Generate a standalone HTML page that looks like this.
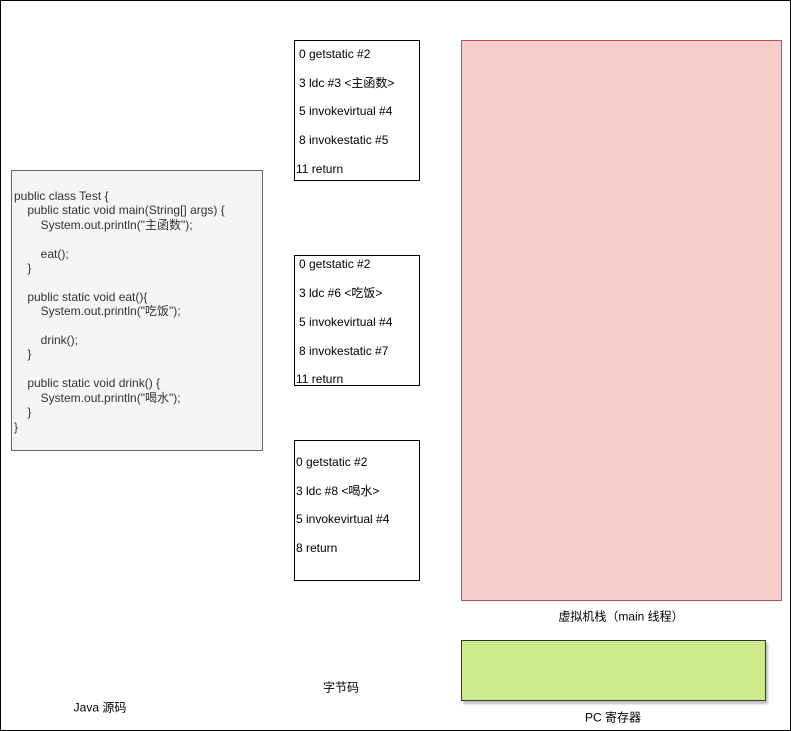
<!DOCTYPE html>
<html><head><meta charset="utf-8"><style>
body{margin:0}
#root{position:relative;width:791px;height:731px;background:#fff;overflow:hidden;font-family:"Liberation Sans","Noto Sans CJK SC",sans-serif;font-size:12px;color:#000}
.frame{left:0;top:0;width:789px;height:729px;border:1px solid #000;pointer-events:none}
.abs{position:absolute}
.code{left:11px;top:170px;width:250px;height:279px;background:#f5f5f5;border:1px solid #666;color:#333}
.code pre{margin:0;position:absolute;left:2px;top:18px;font-family:inherit;font-size:12px;line-height:14.4px}
.bc{border:1px solid #000;background:#fff;width:124px}
.bc div{position:absolute;white-space:nowrap;line-height:14px}
.lbl{white-space:nowrap;transform:translate(-50%,-50%)}
</style></head><body>
<div id="root">
<div class="abs code"><pre>public class Test {
    public static void main(String[] args) {
        System.out.println("主函数");

        eat();
    }

    public static void eat(){
        System.out.println("吃饭");

        drink();
    }

    public static void drink() {
        System.out.println("喝水");
    }
}</pre></div>
<div class="abs bc" style="left:294px;top:40px;height:139px">
<div style="left:4px;top:6px">0 getstatic #2</div>
<div style="left:4px;top:35px">3 ldc #3 &lt;主函数&gt;</div>
<div style="left:4px;top:63px">5 invokevirtual #4</div>
<div style="left:4px;top:92px">8 invokestatic #5</div>
<div style="left:1px;top:121px">11 return</div>
</div>
<div class="abs bc" style="left:294px;top:255px;height:129px">
<div style="left:4px;top:1px">0 getstatic #2</div>
<div style="left:4px;top:30px">3 ldc #6 &lt;吃饭&gt;</div>
<div style="left:4px;top:59px">5 invokevirtual #4</div>
<div style="left:4px;top:88px">8 invokestatic #7</div>
<div style="left:1px;top:116px">11 return</div>
</div>
<div class="abs bc" style="left:294px;top:440px;height:139px">
<div style="left:1px;top:14px">0 getstatic #2</div>
<div style="left:1px;top:43px">3 ldc #8 &lt;喝水&gt;</div>
<div style="left:1px;top:71px">5 invokevirtual #4</div>
<div style="left:1px;top:100px">8 return</div>
</div>
<div class="abs" style="left:461px;top:40px;width:319px;height:559px;background:#f8cecc;border:1px solid #b85450"></div>
<div class="abs lbl" style="left:621px;top:616px">虚拟机栈（main 线程）</div>
<div class="abs" style="left:461px;top:640px;width:303px;height:59px;background:#cdeb8b;border:1px solid #36393d;box-shadow:2px 3px 2px rgba(0,0,0,0.25)"></div>
<div class="abs lbl" style="left:613px;top:717px">PC 寄存器</div>
<div class="abs lbl" style="left:341px;top:687px">字节码</div>
<div class="abs lbl" style="left:100px;top:707px">Java 源码</div>
<div class="abs frame"></div>
</div>
</body></html>
